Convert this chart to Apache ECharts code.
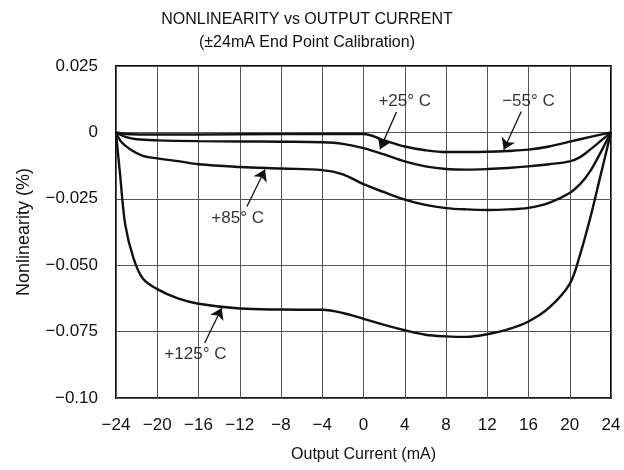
<!DOCTYPE html>
<html>
<head>
<meta charset="utf-8">
<script src="https://cdn.jsdelivr.net/npm/echarts@6/dist/echarts.min.js"></script>
<style>
  html, body { margin: 0; padding: 0; background: #fff; }
  #main { width: 624px; height: 470px; }
</style>
</head>
<body>
<div id="main"></div>
<script>
// curves: [output current mA, nonlinearity %]
const curveM55 = [[-24, 0], [-23, -0.0006], [-20, -0.0008], [-12, -0.0007], [-4, -0.0006], [0, -0.0006],
  [2, -0.003], [4, -0.0053], [6, -0.0067], [8, -0.0074], [10, -0.0074], [12, -0.0073], [14, -0.0070],
  [16, -0.0065], [18, -0.0053], [20, -0.0035], [22, -0.0017], [24, 0]]
const curveP25 = [[-24, 0], [-23, -0.0018], [-22, -0.0026], [-20, -0.0030], [-16, -0.0033], [-12, -0.0034],
  [-8, -0.0035], [-4, -0.0037], [-2, -0.0043], [0, -0.0059], [2, -0.0083], [4, -0.0109], [6, -0.0128],
  [8, -0.0138], [10, -0.0140], [12, -0.0138], [14, -0.0134], [16, -0.0128], [18, -0.0120], [20, -0.0109],
  [21, -0.0093], [22, -0.0064], [23, -0.0032], [24, 0]]
const curveP85 = [[-24, 0], [-23.5, -0.0035], [-22.6, -0.0064], [-21.4, -0.0088], [-20, -0.0098],
  [-18, -0.0108], [-16, -0.0120], [-12, -0.0130], [-8, -0.0136], [-4, -0.0142], [-2, -0.0158],
  [0, -0.0195], [2, -0.0225], [4, -0.0253], [6, -0.0273], [8, -0.0285], [10, -0.0290], [12, -0.0292],
  [14, -0.0290], [16, -0.0284], [18, -0.0265], [20, -0.0228], [21, -0.0195], [22, -0.0145],
  [23, -0.0075], [24, 0]]
const curveP125 = [[-24, 0], [-23.6, -0.016], [-23.1, -0.0348], [-22.3, -0.0474], [-21.4, -0.055],
  [-20, -0.0590], [-18, -0.0625], [-16, -0.0645], [-12, -0.0663], [-8, -0.0667], [-4, -0.0668],
  [-2, -0.0680], [0, -0.0702], [2, -0.0725], [4, -0.0745], [6, -0.0762], [8, -0.0768], [10, -0.0770],
  [12, -0.0760], [14, -0.0742], [16, -0.0712], [18, -0.0660], [20, -0.0570],
  [21, -0.046], [22, -0.032], [23, -0.0160], [24, 0]]

const yTickLabels = ['\u22120.10', '\u22120.075', '\u22120.050', '\u22120.025', '0', '0.025']

// callouts: text, text position, arrow start, arrow tip (data coords)
const noteTexts = ['+25\u00b0 C', '\u221255\u00b0 C', '+85\u00b0 C', '+125\u00b0 C']
const notePos = [[4.0, 0.0117], [16.0, 0.0117], [-12.2, -0.0325], [-16.3, -0.0837]]
const arrowFrom = [[3.2, 0.0077], [15.3, 0.0079], [-11.3, -0.0279], [-15.4, -0.0793]]
const arrowTo = [[1.6, -0.0063], [13.6, -0.0065], [-9.55, -0.0140], [-13.75, -0.0661]]

const font = 'Liberation Sans, Arial, Helvetica, sans-serif'
const ink = '#111'

function curve(name, data) {
  return {
    name: name,
    type: 'line',
    data: data,
    smooth: 0.35,
    symbol: 'none',
    lineStyle: { color: ink, width: 2.4 },
    z: 3
  }
}

let myChart = echarts.init(document.getElementById('main'))
let option = {
  animation: false,
  backgroundColor: '#fff',
  title: {
    text: 'NONLINEARITY vs OUTPUT CURRENT\n(\u00b124mA End Point Calibration)',
    left: 302,
    textAlign: 'center',
    top: 3,
    textStyle: { fontFamily: font, fontSize: 16, fontWeight: 'normal', color: ink, lineHeight: 23 }
  },
  grid: {
    left: 116, right: 13, top: 66, bottom: 72,
    show: true, borderColor: '#111', borderWidth: 2
  },
  xAxis: {
    type: 'value',
    min: -24, max: 24, interval: 4,
    name: 'Output Current (mA)',
    nameLocation: 'middle',
    nameGap: 49,
    nameTextStyle: { fontFamily: font, fontSize: 16, color: ink },
    axisLine: { show: false },
    axisTick: { show: false },
    axisLabel: {
      margin: 19, fontFamily: font, fontSize: 17, color: ink,
      formatter: (v) => String(v).replace('-', '\u2212')
    },
    splitLine: { show: true, lineStyle: { color: '#555', width: 1 } }
  },
  yAxis: {
    type: 'value',
    min: -0.1, max: 0.025, interval: 0.025,
    name: 'Nonlinearity (%)',
    nameLocation: 'middle',
    nameGap: 83,
    nameTextStyle: { fontFamily: font, fontSize: 18, color: ink },
    axisLine: { show: false },
    axisTick: { show: false },
    axisLabel: {
      margin: 18, fontFamily: font, fontSize: 17, color: ink,
      formatter: (v) => yTickLabels[Math.round((v + 0.1) / 0.025)]
    },
    splitLine: { show: true, lineStyle: { color: '#555', width: 1 } }
  },
  series: [
    curve('-55C', curveM55),
    curve('+25C', curveP25),
    curve('+85C', curveP85),
    curve('+125C', curveP125),
    {
      name: 'notes',
      type: 'scatter',
      data: notePos.map((p, i) => ({ value: p, name: noteTexts[i] })),
      symbolSize: 1,
      itemStyle: { color: 'rgba(0,0,0,0)' },
      label: {
        show: true, position: 'inside', formatter: '{b}',
        fontFamily: font, fontSize: 17, color: '#000', textBorderWidth: 0
      },
      markLine: {
        silent: true,
        symbol: ['none', 'arrow'],
        symbolSize: 11,
        label: { show: false },
        lineStyle: { color: ink, width: 1.3, type: 'solid' },
        data: arrowFrom.map((p, i) => [{ coord: p }, { coord: arrowTo[i] }])
      },
      z: 5
    }
  ]
}
myChart.setOption(option)
</script>
</body>
</html>
